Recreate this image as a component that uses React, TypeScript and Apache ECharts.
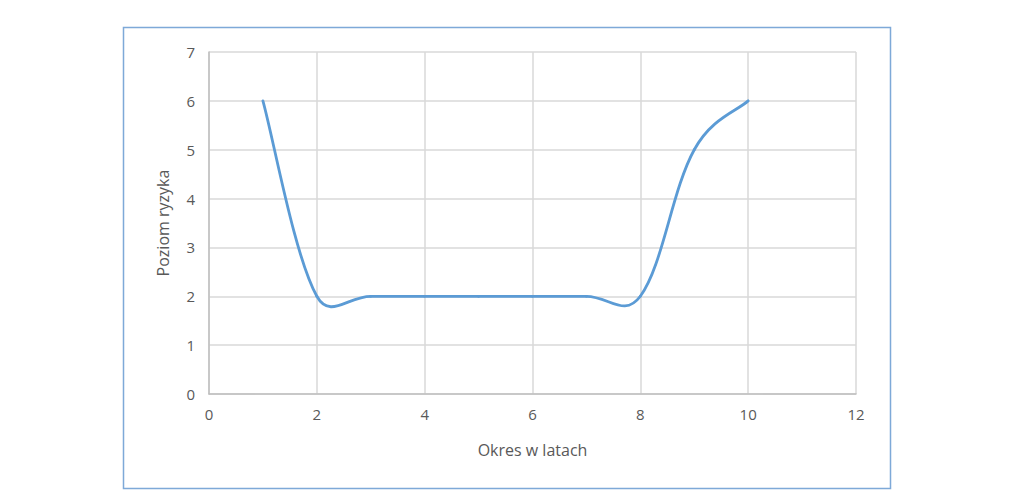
import React, { useEffect, useRef } from "react";
import * as echarts from "echarts";

const xValues = [1, 2, 3, 4, 5, 6, 7, 8, 9, 10];
const riskLevels = [6, 2, 2, 2, 2, 2, 2, 2, 5, 6];
const xAxisTitle = "Okres w latach";
const yAxisTitle = "Poziom ryzyka";

const TANGENT_FRACTION = 0.21;
const MAX_SEGMENT_SHARE = 0.5;

// Control point next to `cur`, on the side of `adj` (Catmull-Rom tangent, length limited)
function control(prev: number[], cur: number[], next: number[], adj: number[], sign: number) {
  const vx = next[0] - prev[0];
  const vy = next[1] - prev[1];
  const vLen = Math.hypot(vx, vy) || 1;
  const segLen = Math.hypot(adj[0] - cur[0], adj[1] - cur[1]);
  const len = Math.min(vLen * TANGENT_FRACTION, segLen * MAX_SEGMENT_SHARE);
  return [cur[0] + (sign * vx * len) / vLen, cur[1] + (sign * vy * len) / vLen];
}

export default function App() {
  const ref = useRef<HTMLDivElement>(null);
  useEffect(() => {
    const chart = echarts.init(ref.current!, null, { renderer: "svg" });
    const font = "'Open Sans', 'Liberation Sans', sans-serif";
    const data = xValues.map((x, i) => [x, riskLevels[i]]);
    chart.setOption({
      animation: false,
      backgroundColor: "#ffffff",
      grid: { left: 209, right: 168, top: 52, bottom: 109 },
      graphic: [
        {
          type: "rect",
          shape: { x: 123.5, y: 27.5, width: 767, height: 461 },
          style: { fill: "none", stroke: "#7ea9d8", lineWidth: 1.5 },
          z: -1,
        },
      ],
      xAxis: {
        type: "value",
        min: 0,
        max: 12,
        interval: 2,
        name: xAxisTitle,
        nameLocation: "middle",
        nameGap: 48,
        nameTextStyle: { color: "#595959", fontSize: 16, fontFamily: font },
        axisLine: { show: true, lineStyle: { color: "#bfbfbf", width: 1.5 } },
        axisTick: { show: false },
        axisLabel: { color: "#595959", fontSize: 15, fontFamily: font, margin: 12 },
        splitLine: { show: true, lineStyle: { color: "#d9d9d9", width: 1.5 } },
      },
      yAxis: {
        type: "value",
        min: 0,
        max: 7,
        interval: 1,
        name: yAxisTitle,
        nameLocation: "middle",
        nameGap: 38,
        nameRotate: 90,
        nameTextStyle: { color: "#595959", fontSize: 16, fontFamily: font },
        axisLine: { show: true, lineStyle: { color: "#bfbfbf", width: 1.5 } },
        axisTick: { show: false },
        axisLabel: { color: "#595959", fontSize: 15, fontFamily: font, margin: 14 },
        splitLine: { show: true, lineStyle: { color: "#d9d9d9", width: 1.5 } },
      },
      series: [
        {
          type: "custom",
          data,
          encode: { x: 0, y: 1 },
          renderItem: (params: any, api: any) => {
            const i = params.dataIndex;
            if (i >= data.length - 1) return null;
            const pts = data.map((d) => api.coord(d));
            const p1 = pts[i];
            const p2 = pts[i + 1];
            const p0 = i > 0 ? pts[i - 1] : p1;
            const p3 = i + 2 < pts.length ? pts[i + 2] : p2;
            const c1 = control(p0, p1, p2, p2, 1);
            const c2 = control(p1, p2, p3, p1, -1);
            return {
              type: "bezierCurve",
              shape: {
                x1: p1[0],
                y1: p1[1],
                cpx1: c1[0],
                cpy1: c1[1],
                cpx2: c2[0],
                cpy2: c2[1],
                x2: p2[0],
                y2: p2[1],
              },
              style: { stroke: "#5b9bd5", lineWidth: 2.8, fill: "none", lineCap: "round" },
            };
          },
        },
      ],
    });
    return () => chart.dispose();
  }, []);
  return (
    <div
      ref={ref}
      style={{ position: "fixed", left: 0, top: 0, width: 1024, height: 503 }}
    />
  );
}
